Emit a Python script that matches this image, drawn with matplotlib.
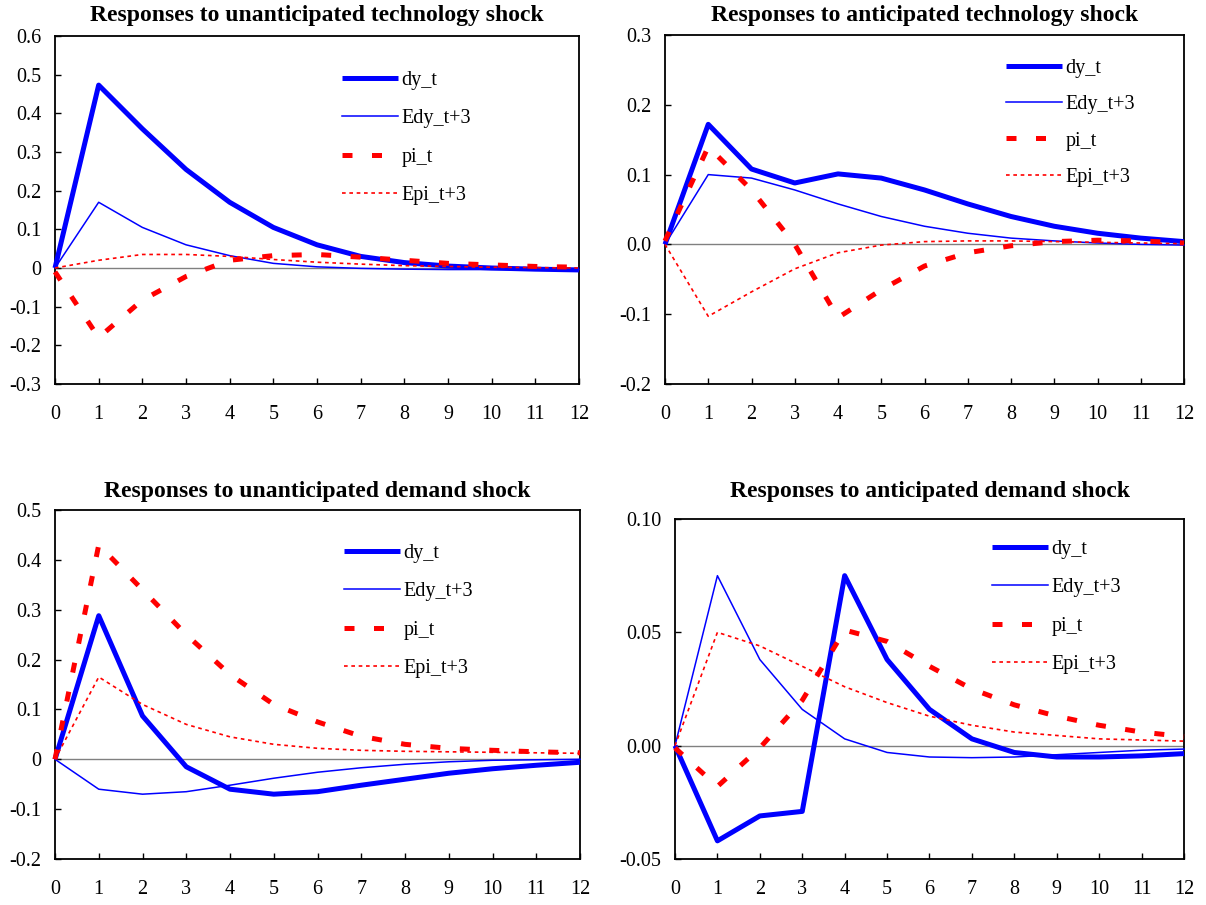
import matplotlib
matplotlib.use("Agg")
import matplotlib.pyplot as plt

plt.rcParams["font.family"] = ["Liberation Serif", "DejaVu Serif"]

W, H = 1206, 905
BLUE = "#0000ff"
RED = "#ff0000"

periods = list(range(13))
series_names = ["dy_t", "Edy_t+3", "pi_t", "Epi_t+3"]

titles = [
    "Responses to unanticipated technology shock",
    "Responses to anticipated technology shock",
    "Responses to unanticipated demand shock",
    "Responses to anticipated demand shock",
]

# unanticipated technology shock
ut_dy = [0, 0.473, 0.36, 0.255, 0.17, 0.105, 0.06, 0.03, 0.014, 0.005, 0.0, -0.003, -0.005]
ut_edy = [0, 0.17, 0.105, 0.06, 0.032, 0.012, 0.003, -0.001, -0.003, -0.004, -0.004, -0.004, -0.004]
ut_pi = [-0.01, -0.18, -0.083, -0.022, 0.02, 0.032, 0.035, 0.028, 0.02, 0.012, 0.008, 0.004, 0.002]
ut_epi = [0, 0.02, 0.035, 0.035, 0.03, 0.022, 0.015, 0.01, 0.006, 0.004, 0.002, 0.001, 0.0]

# anticipated technology shock
at_dy = [0, 0.172, 0.108, 0.088, 0.101, 0.095, 0.078, 0.058, 0.04, 0.026, 0.016, 0.009, 0.004]
at_edy = [0, 0.1, 0.095, 0.078, 0.058, 0.04, 0.026, 0.016, 0.009, 0.005, 0.002, 0.0, -0.001]
at_pi = [0.005, 0.14, 0.078, 0.0, -0.105, -0.065, -0.031, -0.012, -0.002, 0.004, 0.006, 0.005, 0.002]
at_epi = [0, -0.103, -0.068, -0.035, -0.012, -0.001, 0.004, 0.005, 0.005, 0.004, 0.003, 0.002, 0.001]

# unanticipated demand shock
ud_dy = [0, 0.288, 0.087, -0.015, -0.06, -0.07, -0.065, -0.052, -0.04, -0.028, -0.019, -0.012, -0.006]
ud_edy = [0, -0.06, -0.07, -0.065, -0.052, -0.038, -0.026, -0.017, -0.01, -0.005, -0.002, -0.001, 0.0]
ud_pi = [0.0, 0.43, 0.34, 0.25, 0.17, 0.11, 0.075, 0.046, 0.03, 0.022, 0.018, 0.015, 0.013]
ud_epi = [0, 0.165, 0.11, 0.07, 0.045, 0.03, 0.022, 0.018, 0.016, 0.015, 0.014, 0.013, 0.012]

# anticipated demand shock
ad_dy = [0, -0.042, -0.031, -0.029, 0.075, 0.038, 0.016, 0.003, -0.003, -0.005, -0.005, -0.0045, -0.0035]
ad_edy = [0, 0.075, 0.038, 0.016, 0.003, -0.003, -0.005, -0.0053, -0.005, -0.004, -0.003, -0.002, -0.0015]
ad_pi = [-0.001, -0.018, -0.001, 0.02, 0.051, 0.046, 0.035, 0.025, 0.018, 0.013, 0.009, 0.006, 0.004]
ad_epi = [0, 0.05, 0.044, 0.035, 0.026, 0.019, 0.013, 0.009, 0.006, 0.0045, 0.003, 0.0025, 0.002]

panel_data = [
    (ut_dy, ut_edy, ut_pi, ut_epi),
    (at_dy, at_edy, at_pi, at_epi),
    (ud_dy, ud_edy, ud_pi, ud_epi),
    (ad_dy, ad_edy, ad_pi, ad_epi),
]

yticks = [
    [-0.3, -0.2, -0.1, 0, 0.1, 0.2, 0.3, 0.4, 0.5, 0.6],
    [-0.2, -0.1, 0.0, 0.1, 0.2, 0.3],
    [-0.2, -0.1, 0, 0.1, 0.2, 0.3, 0.4, 0.5],
    [-0.05, 0.0, 0.05, 0.10],
]
ytick_labels = [
    ["-0.3", "-0.2", "-0.1", "0", "0.1", "0.2", "0.3", "0.4", "0.5", "0.6"],
    ["-0.2", "-0.1", "0.0", "0.1", "0.2", "0.3"],
    ["-0.2", "-0.1", "0", "0.1", "0.2", "0.3", "0.4", "0.5"],
    ["-0.05", "0.00", "0.05", "0.10"],
]

# plot areas in pixels: left, top, right, bottom
boxes = [(55, 36, 579, 384), (665, 35, 1184, 384), (55, 510, 580, 859), (675, 519, 1184, 859)]
# title centre y in pixels
title_y = [16, 15, 491, 491]
# legend anchor in pixels: handle start x, first row centre y
legend_pos = [(342, 79), (1006, 67), (344, 552), (992, 548)]
legend_gap = [0.95, 0.85, 0.95, 0.95]

styles = [
    dict(color=BLUE, lw=3.6, solid_capstyle="butt"),
    dict(color=BLUE, lw=1.1),
    dict(color=RED, lw=3.6, dashes=(2.0, 3.9), dash_capstyle="butt"),
    dict(color=RED, lw=1.2, dashes=(2.2, 2.2)),
]

fig = plt.figure(figsize=(W / 100, H / 100), dpi=100)

for i in range(4):
    l, t, r, b = boxes[i]
    ax = fig.add_axes([l / W, 1 - b / H, (r - l) / W, (b - t) / H])
    ax.axhline(0, color="#808080", lw=1.0, zorder=1)
    for name, ys, st in zip(series_names, panel_data[i], styles):
        ax.plot(periods, ys, label=name, clip_on=False, zorder=3, **st)
    ax.set_xlim(0, 12)
    ax.set_ylim(yticks[i][0], yticks[i][-1])
    ax.set_xticks(periods)
    ax.set_xticklabels([str(p) for p in periods])
    ax.set_yticks(yticks[i])
    ax.set_yticklabels(ytick_labels[i])
    ax.tick_params(direction="in", length=4, width=1, labelsize=14.5, colors="black")
    ax.tick_params(axis="x", pad=15)
    ax.tick_params(axis="y", pad=10)
    for sp in ax.spines.values():
        sp.set_linewidth(1.3)
    fig.text((l + r) / 2 / W, 1 - title_y[i] / H, titles[i], fontsize=17,
             fontweight="bold", ha="center", va="center")
    lx, ly = legend_pos[i]
    ax.legend(loc="upper left", bbox_to_anchor=(lx / W, 1 - (ly - 8) / H),
              bbox_transform=fig.transFigure, frameon=False, fontsize=14.5,
              borderpad=0, borderaxespad=0, handlelength=2.8,
              handletextpad=0.15, labelspacing=legend_gap[i])

fig.savefig("out.png", dpi=100, facecolor="white")
